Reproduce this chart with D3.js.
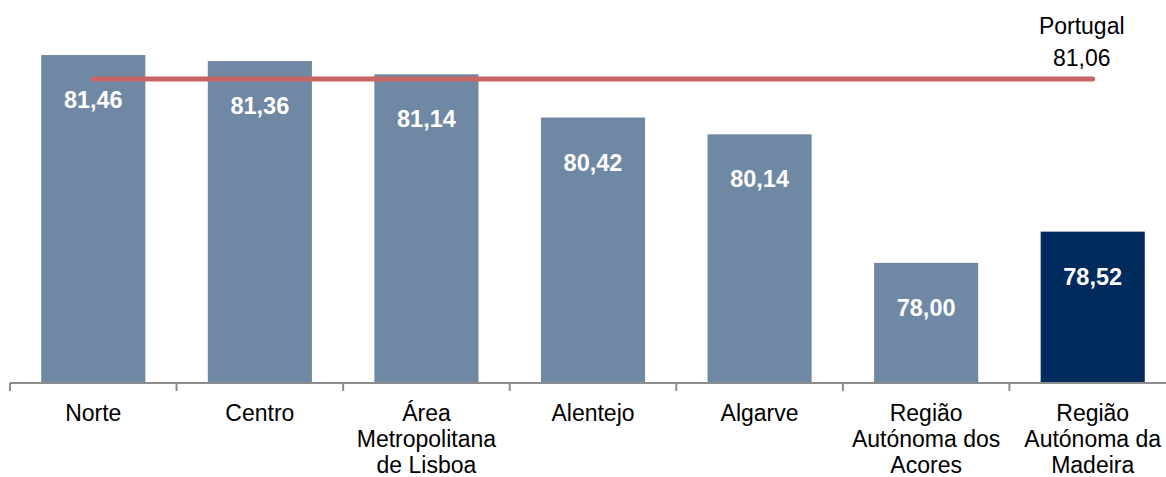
<!DOCTYPE html>
<html>
<head>
<meta charset="utf-8">
<script src="https://cdn.jsdelivr.net/npm/d3@7"></script>
<style>
  html, body { margin: 0; padding: 0; background: #fff; }
  svg { display: block; font-family: "Liberation Sans", Arial, sans-serif; }
</style>
</head>
<body>
<div class="chart"></div>
<script>
// data
const regions = [
  ["Norte"],
  ["Centro"],
  ["Área", "Metropolitana", "de Lisboa"],
  ["Alentejo"],
  ["Algarve"],
  ["Região", "Autónoma dos", "Acores"],
  ["Região", "Autónoma da", "Madeira"]
];
const values = [81.46, 81.36, 81.14, 80.42, 80.14, 78.00, 78.52];
const highlight = [false, false, false, false, false, false, true];
const portugalLabel = ["Portugal", "81,06"];
const portugalValue = 81.06;

const width = 1166, height = 477;
const margin = { top: 22.6, right: -10, bottom: 94, left: 10 };

const svg = d3.select(".chart").append("svg")
  .attr("width", width)
  .attr("height", height);

const idx = d3.range(values.length);

const x = d3.scaleBand()
  .domain(idx)
  .range([margin.left, width - margin.right])
  .paddingInner(0.375)
  .paddingOuter(0.1875);

const y = d3.scaleLinear()
  .domain([76, 82])
  .range([height - margin.bottom, margin.top]);

const fmt = v => d3.format(".2f")(v).replace(".", ",");

// bars
svg.selectAll("rect.bar")
  .data(idx)
  .join("rect")
  .attr("class", "bar")
  .attr("x", i => x(i))
  .attr("y", i => y(values[i]))
  .attr("width", x.bandwidth())
  .attr("height", i => y(76) - y(values[i]))
  .attr("fill", i => highlight[i] ? "#002B5C" : "#6F88A3");

// value labels
svg.selectAll("text.val")
  .data(idx)
  .join("text")
  .attr("class", "val")
  .attr("x", i => x(i) + x.bandwidth() / 2)
  .attr("y", i => y(values[i]) + 53)
  .attr("text-anchor", "middle")
  .attr("fill", "#fff")
  .attr("font-weight", "bold")
  .attr("font-size", 23.5)
  .text(i => fmt(values[i]));

// x axis
const axisY = y(76);
const step = x.step();
const axisG = svg.append("g");
axisG.append("line")
  .attr("x1", margin.left).attr("x2", width - margin.right)
  .attr("y1", axisY).attr("y2", axisY)
  .attr("stroke", "#8c8c8c").attr("stroke-width", 2);
axisG.selectAll("line.tick")
  .data(d3.range(values.length + 1))
  .join("line")
  .attr("class", "tick")
  .attr("x1", i => margin.left + i * step)
  .attr("x2", i => margin.left + i * step)
  .attr("y1", axisY).attr("y2", axisY + 8)
  .attr("stroke", "#8c8c8c").attr("stroke-width", 2);

// category labels
const cat = svg.selectAll("text.cat")
  .data(idx)
  .join("text")
  .attr("class", "cat")
  .attr("text-anchor", "middle")
  .attr("font-size", 23)
  .attr("fill", "#000");
cat.selectAll("tspan")
  .data(i => regions[i].map(t => ({ t, i })))
  .join("tspan")
  .attr("x", d => x(d.i) + x.bandwidth() / 2)
  .attr("y", (d, j) => axisY + 38 + j * 26)
  .text(d => d.t);

// Portugal line
const firstC = x(0) + x.bandwidth() / 2;
const lastC = x(values.length - 1) + x.bandwidth() / 2;
svg.append("line")
  .attr("x1", firstC).attr("x2", lastC)
  .attr("y1", y(portugalValue)).attr("y2", y(portugalValue))
  .attr("stroke", "#C86464")
  .attr("stroke-width", 5)
  .attr("stroke-linecap", "round");

svg.append("text")
  .attr("text-anchor", "middle")
  .attr("font-size", 23)
  .selectAll("tspan")
  .data(portugalLabel)
  .join("tspan")
  .attr("x", lastC - 11)
  .attr("y", (d, j) => 34 + j * 31.5)
  .text(d => d);
</script>
</body>
</html>
